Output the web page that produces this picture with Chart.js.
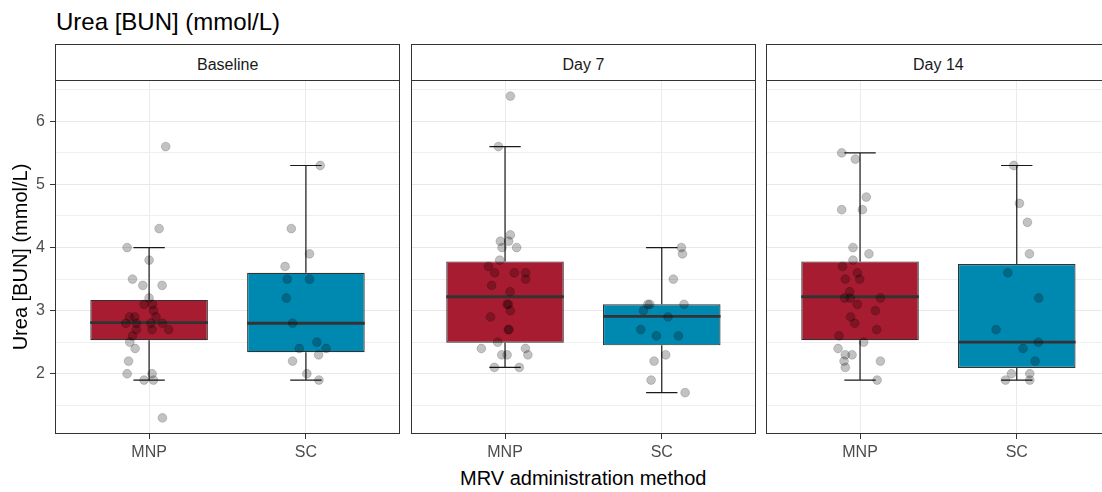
<!DOCTYPE html>
<html><head><meta charset="utf-8">
<script src="https://cdn.jsdelivr.net/npm/chart.js@4"></script>
<style>
html,body{margin:0;padding:0;background:#fff;overflow:hidden;width:1102px;height:492px;}
body{position:relative;font-family:"Liberation Sans",Arial,sans-serif;}
.t{position:absolute;white-space:nowrap;line-height:1;}
canvas{position:absolute;}
.strip{position:absolute;top:44px;height:37px;width:345px;box-sizing:border-box;border:1px solid #333;background:#fff;}
</style></head><body>
<div class="t" id="title" style="left:56px;top:10px;font-size:24px;color:#000;">Urea [BUN] (mmol/L)</div>
<div class="strip" style="left:55px;"></div>
<div class="strip" style="left:411px;"></div>
<div class="strip" style="left:766px;"></div>
<div class="t" id="s0" style="top:56.5px;font-size:16px;color:#1a1a1a;"></div>
<div class="t" id="s1" style="top:56.5px;font-size:16px;color:#1a1a1a;"></div>
<div class="t" id="s2" style="top:56.5px;font-size:16px;color:#1a1a1a;"></div>
<div class="t" id="xtitle" style="top:468px;font-size:20px;color:#000;">MRV administration method</div>
<canvas id="c0" width="410" height="400" style="left:0px;top:70px;"></canvas>
<canvas id="c1" width="356" height="400" style="left:405px;top:70px;"></canvas>
<canvas id="c2" width="356" height="400" style="left:760px;top:70px;"></canvas>
<script>
// ---------- data ----------
const panels = ["Baseline", "Day 7", "Day 14"];
const groups = ["MNP", "SC"];
const yTickLabels = [2, 3, 4, 5, 6];
const yGridValues = [1.5, 2, 2.5, 3, 3.5, 4, 4.5, 5, 5.5, 6, 6.5];
const yTitle = "Urea [BUN] (mmol/L)";

// box statistics per panel: [MNP, SC]
const whiskerLow  = [[1.9, 1.9], [2.1, 1.7], [1.9, 1.9]];
const boxQ1       = [[2.53, 2.34], [2.49, 2.45], [2.53, 2.09]];
const boxMedian   = [[2.81, 2.8], [3.22, 2.91], [3.22, 2.5]];
const boxQ3       = [[3.17, 3.6], [3.78, 3.1], [3.78, 3.74]];
const whiskerHigh = [[4.0, 5.3], [5.6, 4.0], [5.5, 5.3]];

const baselineMNP = [5.6,4.3,4.0,3.8,3.5,3.4,3.4,3.2,3.1,3.1,3.0,2.9,2.9,2.9,2.8,2.8,2.8,2.8,2.7,2.7,2.7,2.6,2.5,2.4,2.2,2.0,2.0,1.9,1.9,1.3];
const baselineMNPJitter = [0.106,0.064,-0.140,0.000,-0.106,-0.040,0.083,0.000,-0.032,0.021,0.028,-0.125,-0.091,0.044,-0.148,-0.081,0.011,0.085,-0.081,0.019,0.125,-0.106,-0.123,-0.089,-0.131,-0.140,0.019,-0.032,0.028,0.085];
const baselineSC = [5.3,4.3,3.9,3.7,3.5,3.5,3.2,2.8,2.5,2.4,2.4,2.3,2.2,2.0,1.9];
const baselineSCJitter = [0.091,-0.093,0.023,-0.133,-0.119,0.023,-0.125,-0.085,0.070,-0.042,0.129,0.081,-0.085,0.006,0.083];
const day7MNP = [6.4,5.6,4.2,4.1,4.1,4.0,4.0,3.8,3.7,3.6,3.6,3.6,3.5,3.4,3.3,3.1,3.1,3.0,2.9,2.7,2.7,2.5,2.4,2.4,2.3,2.3,2.3,2.1,2.1];
const day7MNPJitter = [0.034,-0.042,0.034,-0.030,0.023,-0.019,0.074,-0.034,-0.106,-0.066,0.059,0.132,0.132,-0.085,0.032,0.013,0.021,0.034,-0.093,0.021,0.025,-0.047,-0.151,0.130,-0.021,0.013,0.146,-0.068,0.091];
const day7SC = [4.0,3.9,3.5,3.1,3.1,3.1,3.0,2.9,2.7,2.6,2.6,2.3,2.2,1.9,1.7];
const day7SCJitter = [0.125,0.132,0.074,-0.089,-0.076,0.142,-0.117,0.040,-0.134,-0.034,0.106,0.025,-0.049,-0.068,0.149];
const day14MNP = [5.5,5.4,4.8,4.6,4.6,4.0,3.9,3.8,3.7,3.6,3.5,3.5,3.3,3.2,3.2,3.2,3.1,3.0,2.9,2.8,2.7,2.6,2.5,2.4,2.3,2.3,2.2,2.2,2.1,1.9];
const day14MNPJitter = [-0.117,-0.030,0.040,-0.117,0.015,-0.045,0.057,-0.045,-0.111,-0.017,-0.094,-0.002,-0.066,-0.098,-0.062,0.130,-0.017,0.098,-0.060,-0.034,0.106,-0.134,0.023,-0.140,-0.094,-0.051,-0.102,0.130,-0.094,0.109];
const day14SC = [5.3,4.7,4.4,3.9,3.6,3.2,2.7,2.5,2.4,2.2,2.0,2.0,1.9,1.9];
const day14SCJitter = [-0.019,0.017,0.068,0.081,-0.057,0.140,-0.132,0.138,0.040,0.117,-0.034,0.083,-0.072,0.083];

const observations = [[baselineMNP, baselineSC], [day7MNP, day7SC], [day14MNP, day14SC]];
const jitters = [[baselineMNPJitter, baselineSCJitter], [day7MNPJitter, day7SCJitter], [day14MNPJitter, day14SCJitter]];

// ---------- styling ----------
const groupColors = ["#A71C30", "#0089B0"];
const BOX_HALF = 0.375, CAP_HALF = 0.1;
const Y_MIN = 1.045, Y_MAX = 6.655;
Chart.defaults.font.family = '"Liberation Sans", Arial, sans-serif';

// panel geometry (canvas-relative padding)
const layouts = [
  {left: 0, right: 10, yWidth: 55},
  {left: 6, right: 5, yWidth: 0},
  {left: 6, right: 5, yWidth: 0}
];
const stripCenters = [227.5, 583.5, 938.5];

const panelBorder = {
  id: 'panelBorder',
  afterDatasetsDraw(chart) {
    const {ctx, chartArea: a} = chart;
    ctx.save();
    ctx.strokeStyle = '#333';
    ctx.lineWidth = 1;
    ctx.strokeRect(Math.round(a.left) + 0.5, Math.round(a.top) + 0.5,
                   Math.round(a.right - a.left) - 1, Math.round(a.bottom - a.top) - 1);
    ctx.restore();
  }
};

function buildPanel(p) {
  const showY = p === 0;
  const boxData = groups.map((g, i) => ({x: i + 1, y: [boxQ1[p][i], boxQ3[p][i]]}));
  const whiskerData = [];
  const medianData = [];
  groups.forEach((g, i) => {
    const x = i + 1;
    whiskerData.push(
      {x, y: whiskerLow[p][i]}, {x, y: boxQ1[p][i]}, {x, y: null},
      {x, y: boxQ3[p][i]}, {x, y: whiskerHigh[p][i]}, {x, y: null},
      {x: x - CAP_HALF, y: whiskerLow[p][i]}, {x: x + CAP_HALF, y: whiskerLow[p][i]}, {x, y: null},
      {x: x - CAP_HALF, y: whiskerHigh[p][i]}, {x: x + CAP_HALF, y: whiskerHigh[p][i]}, {x, y: null}
    );
    medianData.push({x: x - BOX_HALF, y: boxMedian[p][i]}, {x: x + BOX_HALF, y: boxMedian[p][i]}, {x, y: null});
  });
  const pointData = [];
  groups.forEach((g, i) => {
    observations[p][i].forEach((v, k) => pointData.push({x: i + 1 + jitters[p][i][k], y: v}));
  });
  const L = layouts[p];

  new Chart(document.getElementById('c' + p), {
    type: 'bar',
    data: {
      datasets: [
        {type: 'line', data: whiskerData, borderColor: '#1a1a1a', borderWidth: 1.2, pointRadius: 0,
         spanGaps: false, fill: false, order: 4, borderCapStyle: 'butt'},
        {type: 'bar', data: boxData, backgroundColor: groupColors, borderColor: '#333333',
         borderWidth: 1.2, borderSkipped: false, barPercentage: 0.75, categoryPercentage: 1, order: 3},
        {type: 'line', data: medianData, borderColor: '#333333', borderWidth: 2.8, pointRadius: 0,
         spanGaps: false, fill: false, order: 2, borderCapStyle: 'butt'},
        {type: 'scatter', data: pointData, backgroundColor: 'rgba(0,0,0,0.24)', borderColor: 'rgba(0,0,0,0.22)',
         borderWidth: 0.8, pointRadius: 4.4, order: 1}
      ]
    },
    options: {
      responsive: false, animation: false, events: [],
      layout: {padding: {left: L.left, right: L.right, top: 10, bottom: 0}},
      plugins: {legend: {display: false}, tooltip: {enabled: false}},
      scales: {
        x: {
          type: 'linear', min: 0.4, max: 2.6, offset: false,
          afterBuildTicks: s => { s.ticks = groups.map((g, i) => ({value: i + 1})); },
          afterFit: s => { s.height = 36; s.paddingLeft = 0; s.paddingRight = 0; },
          ticks: {color: '#4d4d4d', font: {size: 16}, padding: 4, autoSkip: false, maxRotation: 0,
                  callback: v => groups[v - 1]},
          grid: {color: '#ebebeb', offset: false, tickLength: 5, tickColor: '#333', lineWidth: 1},
          border: {display: false}
        },
        y: {
          type: 'linear', min: Y_MIN, max: Y_MAX,
          afterBuildTicks: s => { s.ticks = yGridValues.map(v => ({value: v})); },
          afterFit: s => { s.width = L.yWidth; s.paddingTop = 0; s.paddingBottom = 0; },
          ticks: {display: showY, color: '#4d4d4d', font: {size: 16}, padding: 5, autoSkip: false,
                  callback: v => yTickLabels.includes(v) ? String(v) : ''},
          grid: {
            color: c => yTickLabels.includes(c.tick && c.tick.value) ? '#e8e8e8' : '#efefef',
            lineWidth: 1, drawTicks: showY, tickLength: 5,
            tickColor: c => yTickLabels.includes(c.tick && c.tick.value) ? '#333' : 'rgba(0,0,0,0)'
          },
          border: {display: false},
          title: {display: showY, text: yTitle, color: '#000', font: {size: 20}, padding: {top: 9, bottom: 0}}
        }
      }
    },
    plugins: [panelBorder]
  });
}

panels.forEach((name, p) => {
  const el = document.getElementById('s' + p);
  el.textContent = name;
  el.style.left = (stripCenters[p] - el.offsetWidth / 2) + 'px';
  buildPanel(p);
});
const xt = document.getElementById('xtitle');
xt.style.left = (583 - xt.offsetWidth / 2) + 'px';
</script>
</body></html>
